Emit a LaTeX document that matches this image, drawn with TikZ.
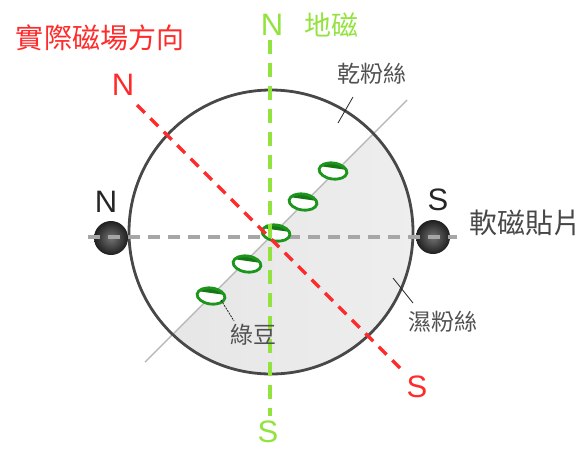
\documentclass[tikz,border=0pt]{standalone}
\usepackage{fontspec}
\setmainfont{Liberation Sans}
\newfontfamily\cjk{Noto Sans CJK TC}
\usetikzlibrary{positioning}
\definecolor{fieldred}{HTML}{FF2A2A}
\definecolor{earthgreen}{HTML}{92E33E}
\definecolor{beangreen}{HTML}{1C951C}
\definecolor{rim}{HTML}{484848}
\definecolor{labelgray}{HTML}{505050}

\tikzset{
  pole/.style={font=\fontsize{31}{31}\selectfont, inner sep=0pt},
  tag/.style={font=\cjk\fontsize{23}{23}\selectfont, text=labelgray, inner sep=0pt},
  leader/.style={black!85, line width=0.8pt},
  bean/.style={draw=beangreen, line width=2.8pt},
  magnet/.style={inner color=black!55, outer color=black!88},
}

\begin{document}
\begin{tikzpicture}[x=1pt,y=-1pt]
  \useasboundingbox (0,0) rectangle (585,450);

  % wet half of the bowl
  \begin{scope}
    \clip (271,232) circle (142pt);
    \shade[left color=gray!22, right color=gray!9] (60,447) -- (480,27) -- (600,600) -- cycle;
  \end{scope}

  % dry / wet divider
  \coordinate (cut1) at (145,362);
  \coordinate (cut2) at (407,100);
  \draw[gray!55, line width=1.4pt] (cut1) -- (cut2);

  % bowl rim
  \draw[rim, line width=2.8pt] (271,232) circle (142pt);

  % soft magnets
  \shade[magnet] (111,238) circle (17pt);
  \shade[magnet] (433,237) circle (17pt);

  % horizontal line through the magnets
  \coordinate (hW) at (88,237);
  \coordinate (hE) at (457,237);
  \draw[gray!70, line width=3.4pt, dash pattern=on 12pt off 8pt] (hW) -- (hE);

  % mung beans
  \foreach \bx/\by in {333/171, 303/202, 276/233, 247/264, 211/296} {
    \begin{scope}[shift={(\bx,\by)}, rotate=-8]
      \fill[white] (0,0) ellipse (14pt and 8pt);
      \begin{scope}
        \clip (0,0) ellipse (14pt and 8pt);
        \fill[beangreen!80!black] (-16,-10) rectangle (16,-3);
      \end{scope}
      \draw[bean] (0,0) ellipse (14pt and 8pt);
    \end{scope}
  }

  % geomagnetic N-S
  \coordinate (gN) at (270,40);
  \coordinate (gS) at (270,416);
  \draw[earthgreen, line width=4pt, dash pattern=on 14pt off 9pt] (gN) -- (gS);

  % actual field direction
  \coordinate (rN) at (137,105);
  \coordinate (rS) at (401,369);
  \draw[fieldred, line width=3.4pt, dash pattern=on 11pt off 8pt] (rN) -- (rS);

  % labels
  \node[font=\cjk\fontsize{28}{28}\selectfont, text=fieldred] (dirlbl) at (100,38) {實際磁場方向};
  \node[pole, text=fieldred] (redN) at (123,85) {N};
  \node[pole, text=fieldred] (redS) at (417,387) {S};
  \node[pole, text=earthgreen] (grnN) at (272,25) {N};
  \node[pole, text=earthgreen] (grnS) at (268,432) {S};
  \node[font=\cjk\fontsize{27}{27}\selectfont, text=earthgreen] (geolbl) at (331,25) {地磁};
  \node[pole, text=black!85] (magN) at (106,202) {N};
  \node[pole, text=black!85] (magS) at (438,200) {S};
  \node[font=\cjk\fontsize{28}{28}\selectfont, text=black!72] (softlbl) at (525,223) {軟磁貼片};
  \node[tag] (drylbl) at (372,74) {乾粉絲};
  \node[tag] (wetlbl) at (443,322) {濕粉絲};
  \node[tag] (beanlbl) at (253,335) {綠豆};

  % leaders
  \coordinate (dryA) at (353,97);
  \coordinate (dryB) at (338,123);
  \draw[leader] (dryA) -- (dryB);
  \coordinate (wetA) at (393,278);
  \coordinate (wetB) at (413,303);
  \draw[leader] (wetA) -- (wetB);
  \coordinate (beanA) at (221,300);
  \coordinate (beanB) at (234,321);
  \draw[leader, dash pattern=on 2pt off 1pt] (beanA) -- (beanB);
\end{tikzpicture}
\end{document}
